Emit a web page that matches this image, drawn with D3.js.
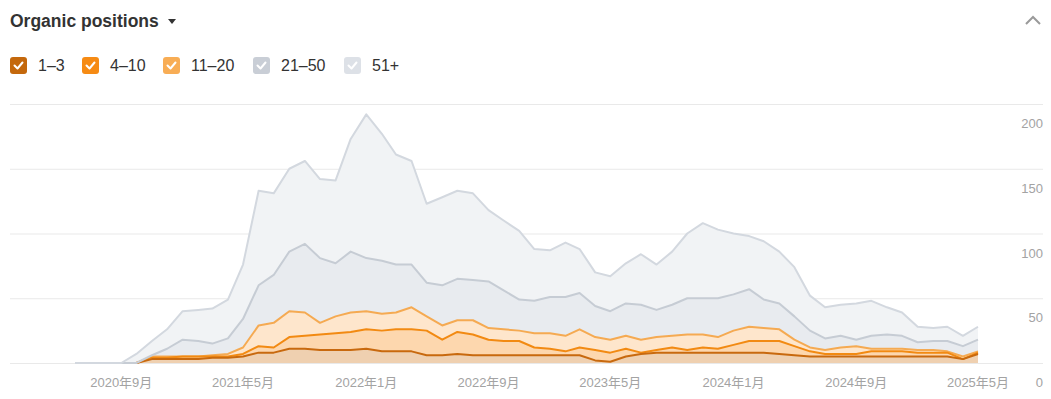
<!DOCTYPE html>
<html>
<head>
<meta charset="utf-8">
<script src="https://cdn.jsdelivr.net/npm/d3@7"></script>
<style>
  body { margin: 0; background: #fff; font-family: Arial, "Liberation Sans", "Noto Sans CJK SC", sans-serif; }
</style>
</head>
<body>
<script>
const width = 1051;
const height = 399;

// monthly points, 2020-06 .. 2025-05
const months = d3.timeMonth.range(new Date(2020, 5, 1), new Date(2025, 5, 1));

const seriesNames = ["1–3", "4–10", "11–20", "21–50", "51+"];

const pos1to3 = [0,0,0,0,0, 3,3,3,3,4,4, 5,8,8,11,11, 10,10,10,11,9,9,9,
  6,6,7,6,6,6,6,6,6,6,6, 2,1,5,7, 8,8,8,8,8,8,8,8, 7,6, 5,5,5,5,5,5,5,5,5,5, 3,7];
const pos4to10 = [0,0,0,0,0, 1,1,2,2,1,1, 2,5,4,9,10, 12,13,14,15,16,17,17,
  19,12,17,16,12,11,11,6,5,3,6, 8,7,6,1, 2,4,2,4,3,6,9,9, 10,7, 4,2,2,2,4,4,4,3,3,3, 0,1];
const pos11to20 = [0,0,0,0,0, 1,1,0,0,1,2, 5,16,19,20,18, 9,13,15,14,13,13,17,
  11,11,9,11,9,9,8,11,12,12,14, 10,10,10,10, 10,9,12,10,9,11,11,10, 9,5, 3,3,5,6,2,2,2,2,2,1, 2,1];
const pos21to50 = [0,0,0,0,0, 1,6,13,12,9,12, 22,31,37,46,53, 50,41,47,41,41,37,33,
  26,31,32,31,36,30,24,25,28,30,28, 24,22,25,27, 21,24,28,28,30,28,29,22, 20,18, 13,9,9,5,10,11,10,6,7,8, 8,9];
const pos51plus = [0,0,0,0,7, 11,15,22,24,27,30, 42,73,63,64,64, 61,64,87,111,98,85,80,
  61,68,68,67,55,54,53,40,36,42,34, 26,27,31,39, 35,41,50,58,53,47,41,45, 40,38, 27,24,24,28,27,21,18,12,10,11, 8,10];

const yTicks = [0, 50, 100, 150, 200];
const xTickDates = [new Date(2020, 8, 1), new Date(2021, 4, 1), new Date(2022, 0, 1),
  new Date(2022, 8, 1), new Date(2023, 4, 1), new Date(2024, 0, 1), new Date(2024, 8, 1), new Date(2025, 4, 1)];
const xTickLabels = ["2020年9月", "2021年5月", "2022年1月", "2022年9月", "2023年5月", "2024年1月", "2024年9月", "2025年5月"];

const lineColors = ["#c8690e", "#f28a12", "#f5aa52", "#c6ccd4", "#d3d8df"];
const boxColors = ["#c4680c", "#f68b14", "#f8ad55", "#c9ced6", "#dde1e7"];
const bandColors = ["#efd0b0", "#fdd7ae", "#fee6cc", "#e8ebef", "#f1f3f5"];

const keys = ["p1", "p2", "p3", "p4", "p5"];
const table = months.map((m, i) => ({
  date: m, p1: pos1to3[i], p2: pos4to10[i], p3: pos11to20[i], p4: pos21to50[i], p5: pos51plus[i]
}));

const svg = d3.select("body").append("svg")
  .attr("width", width)
  .attr("height", height);

// header
svg.append("text")
  .attr("x", 10).attr("y", 27)
  .attr("font-size", 17.5).attr("font-weight", "bold")
  .attr("fill", "#333")
  .text("Organic positions");
svg.append("path")
  .attr("d", "M168,19 L176,19 L172,24 Z")
  .attr("fill", "#333");
svg.append("path")
  .attr("d", "M1026,24 L1033,17 L1040,24")
  .attr("fill", "none").attr("stroke", "#9a9a9a").attr("stroke-width", 2);

// legend
const legendX = [10, 82, 163, 253, 344];
const legend = svg.selectAll("g.legend")
  .data(seriesNames)
  .enter()
  .append("g")
  .attr("class", "legend")
  .attr("transform", (d, i) => `translate(${legendX[i]}, 57)`);
legend.append("rect")
  .attr("width", 17).attr("height", 17).attr("rx", 3)
  .attr("fill", (d, i) => boxColors[i]);
legend.append("path")
  .attr("d", "M4.5,8.5 L7.5,11.5 L12.5,5.5")
  .attr("fill", "none").attr("stroke", "#fff").attr("stroke-width", 2)
  .attr("stroke-linecap", "round").attr("stroke-linejoin", "round");
legend.append("text")
  .attr("x", 28).attr("y", 14)
  .attr("font-size", 16).attr("fill", "#333")
  .text(d => d);

// scales
const x = d3.scaleTime()
  .domain([months[0], months[months.length - 1]])
  .range([75, 978]);
const y = d3.scaleLinear()
  .domain([0, 200])
  .range([363, 104]);

// grid
svg.append("g").selectAll("line")
  .data(yTicks)
  .enter()
  .append("line")
  .attr("x1", 10).attr("x2", 1043)
  .attr("y1", d => y(d) + 0.5).attr("y2", d => y(d) + 0.5)
  .attr("stroke", "#e9e9e9");

svg.append("g").selectAll("text")
  .data(yTicks)
  .enter()
  .append("text")
  .attr("x", 1043)
  .attr("y", d => y(d) + 24)
  .attr("text-anchor", "end")
  .attr("font-size", 13)
  .attr("fill", "#a3a3a3")
  .text(d => d);

svg.append("g").selectAll("text")
  .data(xTickDates)
  .enter()
  .append("text")
  .attr("x", d => x(d))
  .attr("y", 387)
  .attr("text-anchor", "middle")
  .attr("font-size", 13)
  .attr("fill", "#a3a3a3")
  .text((d, i) => xTickLabels[i]);

// stacked areas
const stacked = d3.stack().keys(keys)(table);

const area = d3.area()
  .x(d => x(d.data.date))
  .y0(d => y(d[0]))
  .y1(d => y(d[1]));

const line = d3.line()
  .x(d => x(d.data.date))
  .y(d => y(d[1]));

svg.append("g").selectAll("path")
  .data(stacked)
  .enter()
  .append("path")
  .attr("d", area)
  .attr("fill", (d, i) => bandColors[i]);

// lines: orange first, grey on top (they only meet on the empty start)
const lineOrder = [2, 1, 0, 3, 4];
svg.append("g").selectAll("path")
  .data(lineOrder.map(k => stacked[k]))
  .enter()
  .append("path")
  .attr("d", line)
  .attr("fill", "none")
  .attr("stroke", d => lineColors[d.index])
  .attr("stroke-width", 2)
  .attr("stroke-linejoin", "round");
</script>
</body>
</html>
